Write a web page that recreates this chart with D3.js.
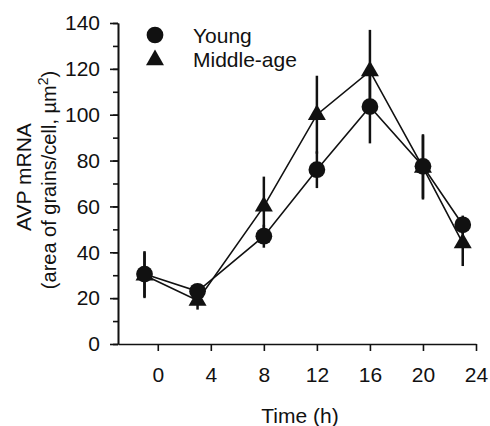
<!DOCTYPE html>
<html lang="en">
<head>
<meta charset="utf-8"/>
<title>AVP mRNA</title>
<script src="https://d3js.org/d3.v7.min.js"></script>
<style>
  body { margin: 0; background: #fff; }
  text { font-family: "Liberation Sans", Arial, sans-serif; fill: #111; }
  .axis path, .axis line { stroke: #111; stroke-width: 1.6px; }
</style>
</head>
<body>
<div id="chart"></div>
<script>
// data
var hours = [-1, 3, 8, 12, 16, 20, 23];
var young = [30.5, 23, 47, 76, 103.5, 77.5, 52];
var youngErr = [10, 3, 5, 8, 16, 14, 4];
var middle = [30, 19, 60, 100, 119, 77, 44];
var middleErr = [10, 4, 13, 17, 18, 14, 10];
var xTicks = [0, 4, 8, 12, 16, 20, 24];
var yTicks = [0, 20, 40, 60, 80, 100, 120, 140];

var width = 490, height = 426;
var margin = {left: 118, right: 14, top: 23, bottom: 82};
var fs = "21px";

var svg = d3.select("#chart").append("svg")
    .attr("width", width)
    .attr("height", height);

var x = d3.scaleLinear().domain([-3, 24]).range([margin.left, width - margin.right]);
var y = d3.scaleLinear().domain([0, 140]).range([height - margin.bottom, margin.top]);

// y axis with minor ticks
svg.append("g")
    .attr("class", "axis")
    .attr("transform", "translate(" + margin.left + ",0)")
    .call(d3.axisLeft(y).tickValues(d3.range(0, 141, 10)).tickSize(5).tickSizeOuter(0).tickFormat(""));
svg.append("g")
    .attr("class", "axis")
    .attr("transform", "translate(" + margin.left + ",0)")
    .call(d3.axisLeft(y).tickValues(yTicks).tickSize(8).tickSizeOuter(0).tickPadding(10))
    .selectAll("text").style("font-size", fs);

svg.append("g")
    .attr("class", "axis")
    .attr("transform", "translate(0," + y(0) + ")")
    .call(d3.axisBottom(x).tickValues(xTicks).tickSize(7).tickSizeOuter(0).tickPadding(16))
    .selectAll("text").style("font-size", fs);

svg.selectAll(".domain").attr("stroke-width", 2);

// axis titles
svg.append("text")
    .attr("x", 300).attr("y", 423)
    .attr("text-anchor", "middle")
    .style("font-size", fs)
    .text("Time (h)");

var ylab = svg.append("g").attr("transform", "translate(0,180) rotate(-90)");
ylab.append("text")
    .attr("x", 3).attr("y", 31)
    .attr("text-anchor", "middle")
    .style("font-size", fs)
    .text("AVP mRNA");
var t2 = ylab.append("text")
    .attr("x", 0).attr("y", 56)
    .attr("text-anchor", "middle")
    .style("font-size", "20px");
t2.append("tspan").text("(area of grains/cell, \u00b5m");
t2.append("tspan").attr("dy", -8).style("font-size", "14px").text("2");
t2.append("tspan").attr("dy", 8).text(")");

var line = d3.line()
    .x(function(d) { return x(d[0]); })
    .y(function(d) { return y(d[1]); });

var series = [
  {vals: middle, err: middleErr, shape: d3.symbolTriangle, size: 140},
  {vals: young, err: youngErr, shape: d3.symbolCircle, size: 220}
];

series.forEach(function(s) {
  var pts = hours.map(function(h, i) { return [h, s.vals[i], s.err[i]]; });
  svg.append("path")
      .datum(pts)
      .attr("fill", "none")
      .attr("stroke", "#111")
      .attr("stroke-width", 1.6)
      .attr("d", line);
  svg.selectAll(null)
      .data(pts)
      .enter().append("line")
      .attr("x1", function(d) { return x(d[0]); })
      .attr("x2", function(d) { return x(d[0]); })
      .attr("y1", function(d) { return y(d[1] - d[2]); })
      .attr("y2", function(d) { return y(d[1] + d[2]); })
      .attr("stroke", "#111")
      .attr("stroke-width", 2.5);
});

series.forEach(function(s) {
  var pts = hours.map(function(h, i) { return [h, s.vals[i]]; });
  svg.selectAll(null)
      .data(pts)
      .enter().append("path")
      .attr("d", d3.symbol().type(s.shape).size(s.size))
      .attr("transform", function(d) { return "translate(" + x(d[0]) + "," + y(d[1]) + ")"; })
      .attr("fill", "#111");
});

// legend
var legend = svg.append("g");
legend.append("path")
    .attr("d", d3.symbol().type(d3.symbolCircle).size(220))
    .attr("transform", "translate(155,35)")
    .attr("fill", "#111");
legend.append("path")
    .attr("d", d3.symbol().type(d3.symbolTriangle).size(140))
    .attr("transform", "translate(155,60)")
    .attr("fill", "#111");
legend.append("text").attr("x", 193).attr("y", 43).style("font-size", fs).text("Young");
legend.append("text").attr("x", 193).attr("y", 67).style("font-size", fs).text("Middle-age");
</script>
</body>
</html>
